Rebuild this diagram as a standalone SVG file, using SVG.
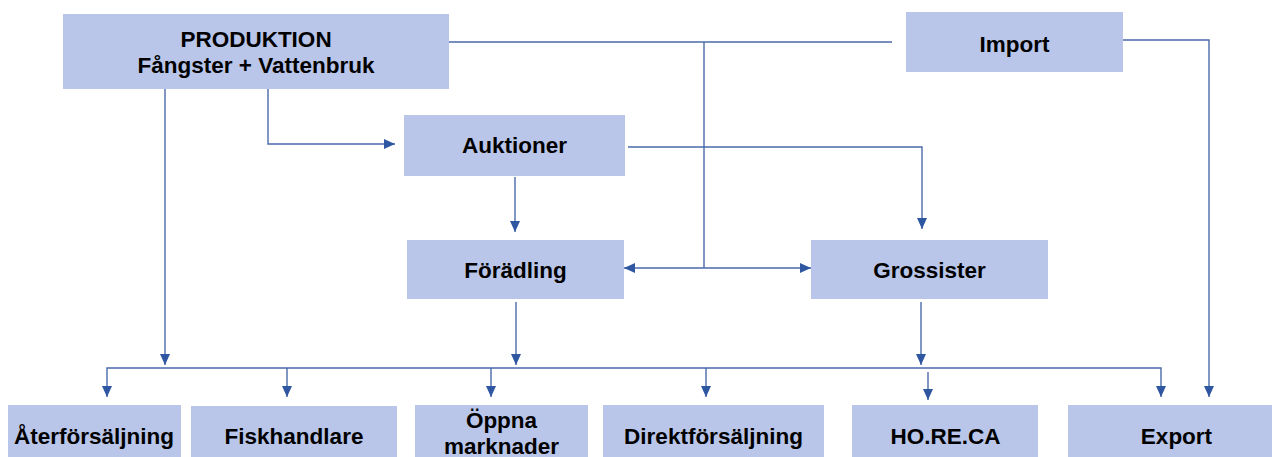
<svg xmlns="http://www.w3.org/2000/svg" width="1272" height="457" viewBox="0 0 1272 457">
<style>
.box{fill:#B9C6E9;}
.t{font-family:"Liberation Sans",Arial,sans-serif;font-weight:bold;font-size:22.5px;fill:#000;text-anchor:middle;}
.c{fill:none;stroke:#4A6AAA;stroke-width:1.4;}
</style>
<defs>
<marker id="ah" markerUnits="userSpaceOnUse" markerWidth="11" markerHeight="10" refX="11" refY="5" orient="auto-start-reverse" viewBox="0 0 11 10">
<path d="M0,0 L11,5 L0,10 z" fill="#2F56A0"/>
</marker>
</defs>
<rect width="1272" height="457" fill="#fff"/>
<g id="connectors">
<path class="c" d="M449,42 H892"/>
<path class="c" d="M704,42 V268"/>
<path class="c" d="M624,268 H811" marker-start="url(#ah)" marker-end="url(#ah)"/>
<path class="c" d="M268,89 V144 H395" marker-end="url(#ah)"/>
<path class="c" d="M628,147 H922 V229" marker-end="url(#ah)"/>
<path class="c" d="M515,177 V232" marker-end="url(#ah)"/>
<path class="c" d="M1123,40 H1209 V397" marker-end="url(#ah)"/>
<path class="c" d="M165,89 V365" marker-end="url(#ah)"/>
<path class="c" d="M516,302 V365" marker-end="url(#ah)"/>
<path class="c" d="M921,302 V365" marker-end="url(#ah)"/>
<path class="c" d="M107,397 V368 H1161 V397" marker-start="url(#ah)" marker-end="url(#ah)"/>
<path class="c" d="M287,368 V397" marker-end="url(#ah)"/>
<path class="c" d="M491,368 V397" marker-end="url(#ah)"/>
<path class="c" d="M706,368 V397" marker-end="url(#ah)"/>
<path class="c" d="M928,372 V400" marker-end="url(#ah)"/>
</g>
<g id="produktion"><rect class="box" x="63" y="14" width="386" height="75"/><text class="t" x="256" y="47">PRODUKTION</text><text class="t" x="256" y="73">Fångster + Vattenbruk</text></g>
<g id="import"><rect class="box" x="906" y="12" width="217" height="60"/><text class="t" x="1014.5" y="52">Import</text></g>
<g id="auktioner"><rect class="box" x="404" y="115" width="221" height="61"/><text class="t" x="514.5" y="153">Auktioner</text></g>
<g id="foradling"><rect class="box" x="407" y="240" width="217" height="59"/><text class="t" x="515.5" y="278">Förädling</text></g>
<g id="grossister"><rect class="box" x="811" y="240" width="237" height="59"/><text class="t" x="929.5" y="278">Grossister</text></g>
<g id="aterforsaljning"><rect class="box" x="8" y="405" width="173" height="52"/><text class="t" x="94" y="444">Återförsäljning</text></g>
<g id="fiskhandlare"><rect class="box" x="191" y="406" width="206" height="51"/><text class="t" x="294" y="444">Fiskhandlare</text></g>
<g id="oppna"><rect class="box" x="415" y="405" width="173" height="52"/><text class="t" x="501.5" y="428">Öppna</text><text class="t" x="501.5" y="454">marknader</text></g>
<g id="direkt"><rect class="box" x="603" y="405" width="221" height="52"/><text class="t" x="713.5" y="444">Direktförsäljning</text></g>
<g id="horeca"><rect class="box" x="852" y="405" width="186" height="52"/><text class="t" x="945.5" y="444">HO.RE.CA</text></g>
<g id="export"><rect class="box" x="1068" y="405" width="204" height="52"/><text class="t" x="1176.5" y="444">Export</text></g>
</svg>
